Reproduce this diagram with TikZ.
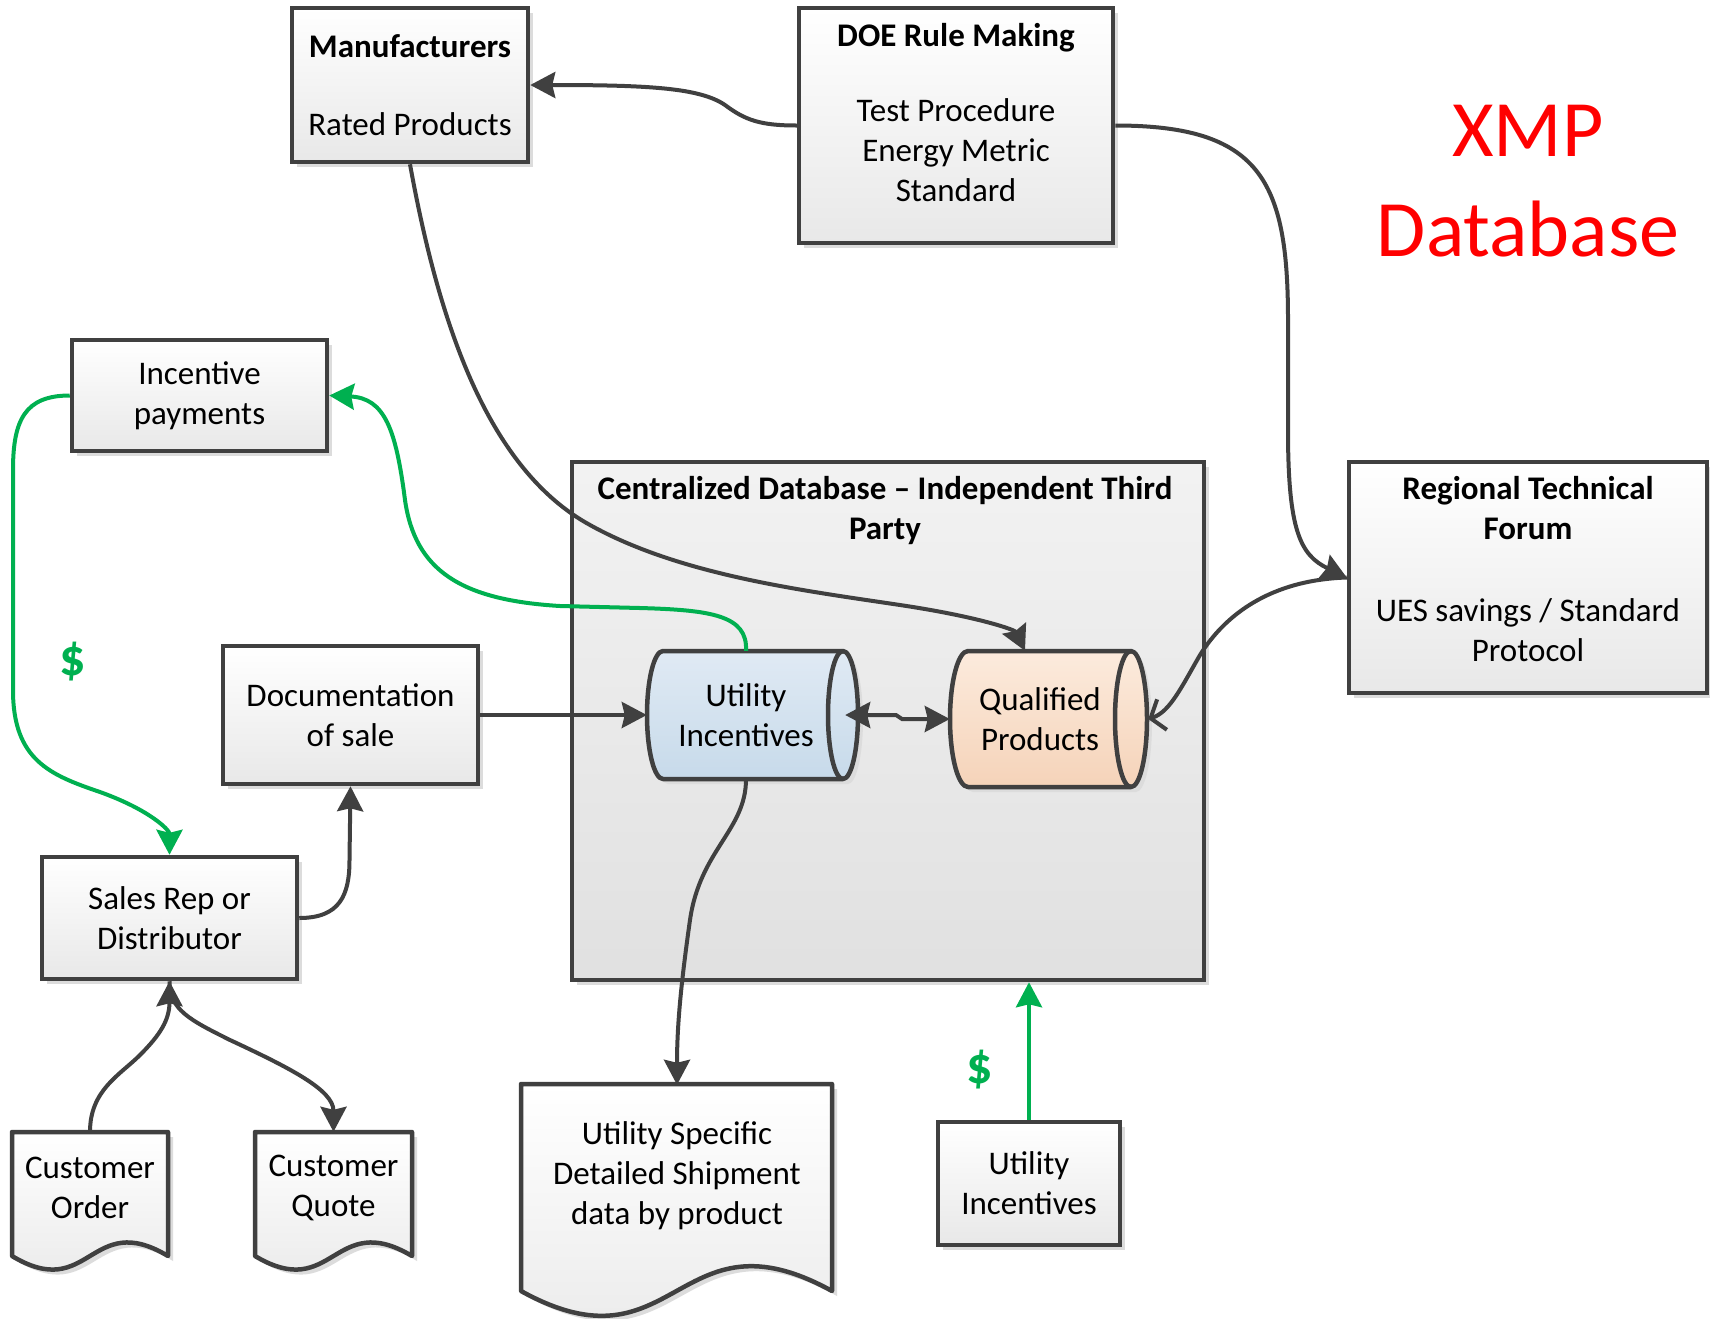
\documentclass[tikz,border=0pt]{standalone}
\usepackage{fontspec}
\setmainfont{Carlito}
\usetikzlibrary{arrows.meta,shadows,calc}
\definecolor{dg}{HTML}{404040}
\definecolor{gr}{HTML}{00B050}
\definecolor{shd}{HTML}{DCDCDC}
\definecolor{uiT}{HTML}{E0EAF4}
\definecolor{uiB}{HTML}{C7DAEA}
\definecolor{qpT}{HTML}{FCEBDD}
\definecolor{qpB}{HTML}{F5D3B9}
\begin{document}
\begin{tikzpicture}[x=1pt,y=-1pt,
  fs/.style={font=\fontsize{33}{40}\selectfont},
  box/.style={draw=dg, line width=4.5pt, top color=white, bottom color=black!9,
    drop shadow={shadow xshift=5pt, shadow yshift=-5pt, fill=shd, opacity=1},
    align=center, inner sep=0pt, fs},
  lbl/.style={align=center, inner sep=0pt, fs},
  anch/.style={draw=none, inner sep=0pt},
  outl/.style={draw=dg, line width=4.5pt, line join=round},
  shdw/.style={fill=shd, xshift=5pt, yshift=-5pt},
  conn/.style={draw=dg, line width=4pt, -{Stealth[length=25pt,width=26pt,inset=3pt]}},
  gconn/.style={draw=gr, line width=4pt, -{Stealth[length=25pt,width=26pt,inset=3pt]}},
  dollar/.style={font=\fontsize{52}{60}\selectfont\bfseries, text=gr, inner sep=0pt}
]
\useasboundingbox (0,0) rectangle (1710,1318);
\fill[white] (0,0) rectangle (1710,1318);

% container
\node[box, top color=black!5, bottom color=black!12, minimum width=632, minimum height=518] (cont) at (888,721) {};
\node[lbl, font=\fontsize{33}{40}\selectfont\bfseries] (contT) at (885,511) {Centralized Database – Independent Third\\Party};

% rectangles
\node[box, minimum width=236, minimum height=154] (manuf) at (410,85) {\textbf{Manufacturers}\\[38pt]Rated Products};
\node[box, minimum width=314, minimum height=235] (doe) at (956,125.5) {};
\node[lbl] (doeT) at (956,113) {\textbf{DOE Rule Making}\\[35pt]Test Procedure\\Energy Metric\\Standard};
\node[box, minimum width=255, minimum height=111] (inc) at (199.5,395.5) {Incentive\\payments};
\node[box, minimum width=255, minimum height=138] (docs) at (350.5,715) {Documentation\\of sale};
\node[box, minimum width=255, minimum height=122] (sales) at (169.5,918) {Sales Rep or\\Distributor};
\node[box, minimum width=358, minimum height=231] (reg) at (1528,577.5) {};
\node[lbl] (regT) at (1528,569) {\textbf{Regional Technical}\\\textbf{Forum}\\[42pt]UES savings / Standard\\Protocol};
\node[box, minimum width=182, minimum height=123] (uib) at (1029,1183.5) {Utility\\Incentives};
\node[lbl, text=red, font=\fontsize{80}{100}\selectfont] (xmp) at (1528,181) {XMP\\Database};

% cylinders
\path[shdw] (843,651) -- (663,651) arc[start angle=270,end angle=90,x radius=16,y radius=64] -- (843,779) arc[start angle=90,end angle=-90,x radius=15,y radius=64] -- cycle;
\path[outl, top color=uiT, bottom color=uiB] (843,651) -- (663,651) arc[start angle=270,end angle=90,x radius=16,y radius=64] -- (843,779) arc[start angle=90,end angle=-90,x radius=15,y radius=64] -- cycle;
\draw[outl] (843,651) arc[start angle=270,end angle=90,x radius=15,y radius=64];
\node[anch, lbl, minimum width=198, minimum height=128] (ui) at (746,715) {Utility\\Incentives};

\path[shdw] (1131,651) -- (968,651) arc[start angle=270,end angle=90,x radius=18,y radius=68] -- (1131,787) arc[start angle=90,end angle=-90,x radius=16,y radius=68] -- cycle;
\path[outl, top color=qpT, bottom color=qpB] (1131,651) -- (968,651) arc[start angle=270,end angle=90,x radius=18,y radius=68] -- (1131,787) arc[start angle=90,end angle=-90,x radius=16,y radius=68] -- cycle;
\draw[outl] (1131,651) arc[start angle=270,end angle=90,x radius=16,y radius=68];
\node[anch, minimum width=198, minimum height=136] (qp) at (1049,719) {};
\node[lbl] (qpT) at (1040,719) {Qualified\\Products};

% documents
\path[shdw] (12,1132) -- (168,1132) -- (168,1256) .. controls (90,1209) and (90,1303) .. (12,1256) -- cycle;
\path[outl, top color=white, bottom color=black!9] (12,1132) -- (168,1132) -- (168,1256) .. controls (90,1209) and (90,1303) .. (12,1256) -- cycle;
\node[anch, lbl, minimum width=156, minimum height=112] (corder) at (90,1188) {Customer\\Order};

\path[shdw] (255,1132) -- (412,1132) -- (412,1256) .. controls (333.5,1209) and (333.5,1303) .. (255,1256) -- cycle;
\path[outl, top color=white, bottom color=black!9] (255,1132) -- (412,1132) -- (412,1256) .. controls (333.5,1209) and (333.5,1303) .. (255,1256) -- cycle;
\node[anch, lbl, minimum width=157, minimum height=112] (cquote) at (333.5,1188) {Customer\\Quote};

\path[shdw] (521,1084) -- (832,1084) -- (832,1291) .. controls (676.5,1205) and (676.5,1377) .. (521,1291) -- cycle;
\path[outl, top color=white, bottom color=black!9] (521,1084) -- (832,1084) -- (832,1291) .. controls (676.5,1205) and (676.5,1377) .. (521,1291) -- cycle;
\node[anch, lbl, minimum width=311, minimum height=182] (uspec) at (677,1176) {Utility Specific\\Detailed Shipment\\data by product};

% dollar labels
\node[dollar] (d1) at (73,662) {\$};
\node[dollar] (d2) at (980,1070) {\$};

% connectors
\draw[conn] (doe.west) .. controls (760,125.5) and (745,120) .. (725,105) .. controls (700,88) and (650,85) .. (manuf.east);
\draw[conn] (doe.east) .. controls (1260,125.5) and (1288,180) .. (1288,320) -- (1288,430) .. controls (1288,530) and (1300,555) .. (reg.west);
\draw[draw=dg, line width=4pt, -{Straight Barb[length=12pt,width=32pt,line width=4pt]}] (reg.west) .. controls (1270,580) and (1225,615) .. (1200,655) .. controls (1182,686) and (1170,712) .. (qp.east);
\draw[conn] (manuf.south) .. controls (440,330) and (490,470) .. (590,525) .. controls (680,575) and (800,590) .. (900,605) .. controls (980,617) and (1015,630) .. ($(qp.north)+(-24,0)$);
\draw[draw=dg, line width=4pt, {Stealth[length=25pt,width=26pt,inset=3pt]}-{Stealth[length=25pt,width=26pt,inset=3pt]}] (ui.east) -- (896,715) -- (902,719) -- (qp.west);
\draw[conn] (docs.east) -- (ui.west);
\draw[gconn] (ui.north) .. controls (748,615) and (710,610) .. (640,608) -- (560,606) .. controls (460,600) and (415,570) .. (405,500) .. controls (396,430) and (385,398) .. (inc.east);
\draw[gconn] (inc.west) .. controls (25,395.5) and (13,420) .. (13,470) -- (13,690) .. controls (13,760) and (50,775) .. (100,792) .. controls (150,810) and (169.5,830) .. (sales.north);
\draw[conn] (sales.east) .. controls (340,918) and (349.5,895) .. (349.5,860) -- (docs.south);
\draw[conn] (corder.north) .. controls (90,1090) and (120,1075) .. (140,1055) .. controls (160,1035) and (169.5,1020) .. (sales.south);
\draw[conn] (sales.south) .. controls (169.5,1010) and (190,1020) .. (230,1040) .. controls (290,1068) and (333.5,1090) .. (cquote.north);
\draw[conn] (ui.south) .. controls (746,830) and (700,850) .. (690,920) .. controls (680,990) and (677,1030) .. (uspec.north);
\draw[gconn] (uib.north) -- (uib.north |- cont.south);
\end{tikzpicture}
\end{document}
